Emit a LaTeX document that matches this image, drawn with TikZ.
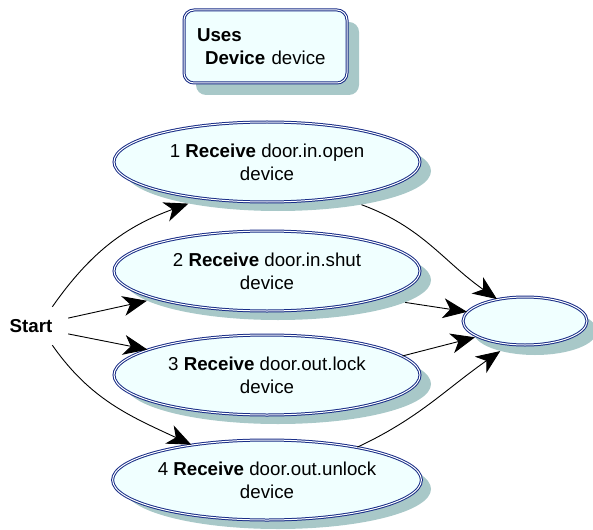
\documentclass[tikz,border=0pt]{standalone}
\usepackage{fontspec}
\setmainfont{Liberation Sans}
\usetikzlibrary{shapes.geometric,arrows.meta}
\definecolor{bordc}{RGB}{25,45,135}
\definecolor{fillc}{RGB}{240,255,255}
\definecolor{shadc}{RGB}{168,200,200}
\begin{document}
\begin{tikzpicture}[x=1pt,y=-1pt,
  font=\fontsize{18.7}{23}\selectfont,
  dbl/.style={draw=bordc, double=white, line width=1pt, double distance=1pt, fill=fillc},
  usecase/.style={ellipse, dbl, minimum width=306pt, minimum height=80pt, inner sep=0pt, align=center},
  ucshadow/.style={ellipse, fill=shadc, minimum width=306pt, minimum height=80pt, inner sep=0pt},
  endcase/.style={ellipse, dbl, minimum width=124pt, minimum height=48pt, inner sep=0pt},
  endshadow/.style={ellipse, fill=shadc, minimum width=124pt, minimum height=48pt, inner sep=0pt},
  usesbox/.style={rectangle, rounded corners=10pt, dbl, minimum width=163pt, minimum height=73pt, text width=137pt, inner sep=0pt, align=left},
  usesshadow/.style={rectangle, rounded corners=10pt, fill=shadc, minimum width=163pt, minimum height=73pt, inner sep=0pt},
  arr/.style={line width=0.9pt, black, -{Stealth[length=24pt,width=20pt,inset=7pt]}}
]
\useasboundingbox (0,0) rectangle (593,529);

% shadows
\node[usesshadow] (usess) at (277.5,58.5) {};
\node[ucshadow] (e1s) at (278,171) {};
\node[ucshadow] (e2s) at (278,280) {};
\node[ucshadow] (e3s) at (278,384) {};
\node[ucshadow] (e4s) at (278,489) {};
\node[endshadow] (rs) at (535,331) {};

% main shapes
\node[usesbox] (uses) at (265.5,46.5) {\textbf{Uses}\\\hspace*{8pt}\textbf{Device} device};
\node[usecase] (e1) at (267,162) {1 \textbf{Receive} door.in.open\\device};
\node[usecase] (e2) at (267,271) {2 \textbf{Receive} door.in.shut\\device};
\node[usecase] (e3) at (267,375) {3 \textbf{Receive} door.out.lock\\device};
\node[usecase] (e4) at (267,480) {4 \textbf{Receive} door.out.unlock\\device};
\node[endcase] (r) at (525,321) {};

\node[rectangle, minimum width=74pt, minimum height=38pt, inner sep=0pt] (start) at (31,326) {\textbf{Start}};

% connectors
\draw[arr] (start.42) to[out=55,in=200] (e1s.200);
\draw[arr] (start.12) -- (e2s.189);
\draw[arr] (start.-12) -- (e3.168);
\draw[arr] (start.-42) to[out=-55,in=155] (e4.155);

\draw[arr] (e1s.-22) to[out=-20,in=145] (r.142);
\draw[arr] (e2s.-10) -- (r.171);
\draw[arr] (e3.8) -- (rs.186);
\draw[arr] (e4.20) to[out=25,in=215] (rs.210);
\end{tikzpicture}
\end{document}
